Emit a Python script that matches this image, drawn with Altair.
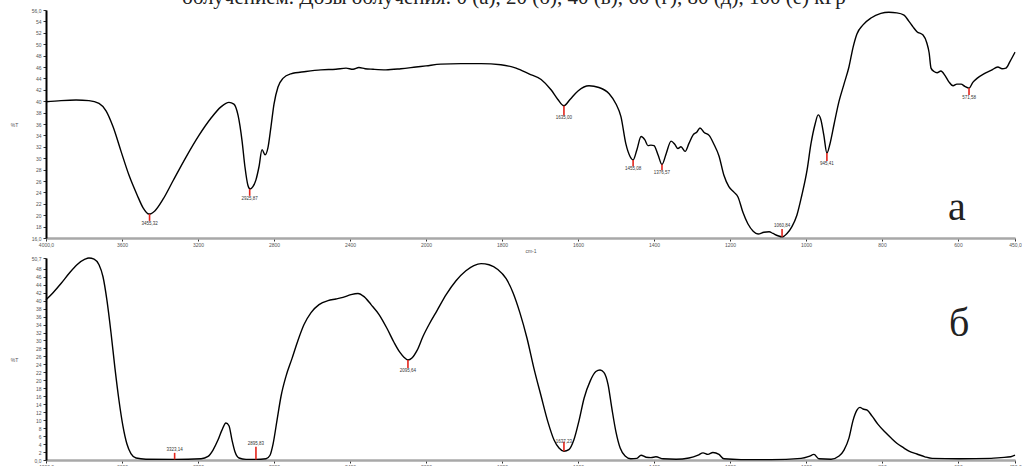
import altair as alt
import pandas as pd

# ---------------- data ----------------
TITLE = "облучением. Дозы облучения: 0 (а), 20 (б), 40 (в), 60 (г), 80 (д), 100 (е) кГр"

TOP_WN = [4000, 3921, 3842, 3774, 3721, 3684, 3647, 3605, 3563, 3521, 3489, 3458, 3426, 3384, 3332,
          3263, 3195, 3132, 3079, 3037, 3011, 2989, 2968, 2953, 2937, 2926, 2911, 2895, 2879, 2863,
          2847, 2832, 2816, 2800, 2779, 2753, 2711, 2632, 2553, 2474, 2421, 2384, 2353, 2321, 2279,
          2211, 2132, 2053, 2000, 1961, 1908, 1855, 1803, 1763, 1729, 1697, 1671, 1653, 1637, 1621,
          1600, 1571, 1545, 1518, 1500, 1487, 1474, 1463, 1455, 1445, 1434, 1424, 1416, 1408, 1400,
          1389, 1379, 1368, 1355, 1345, 1337, 1329, 1318, 1308, 1297, 1287, 1279, 1268, 1255, 1242,
          1229, 1216, 1203, 1189, 1179, 1166, 1153, 1139, 1126, 1111, 1097, 1087, 1074, 1063, 1050,
          1037, 1024, 1011, 997, 987, 976, 968, 961, 953, 945, 937, 926, 913, 900, 887,
          876, 866, 850, 829, 803, 782, 761, 742, 729, 718, 708, 692, 682, 676, 671,
          663, 655, 645, 634, 624, 613, 603, 592, 582, 571, 561, 550, 532, 513, 495,
          484, 474, 463, 450]
TOP_T = [39.9, 40.1, 40.2, 40.1, 39.6, 38.3, 35.5, 31.2, 27.0, 23.6, 21.3, 20.2, 20.8, 22.8, 26.0,
         30.2, 34.0, 37.0, 39.0, 39.8, 39.5, 37.5, 33.0, 28.5, 25.2, 24.6, 25.0, 26.2, 28.5, 31.5,
         30.6, 31.8, 35.5, 39.5, 42.5, 44.0, 44.8, 45.2, 45.5, 45.6, 45.8, 45.6, 45.9, 45.7, 45.6,
         45.5, 45.7, 46.0, 46.2, 46.5, 46.6, 46.6, 46.4, 45.8, 44.8, 43.8, 42.0, 40.3, 39.2, 40.3,
         41.8, 42.7, 42.4, 41.3, 39.5, 37.3, 32.5, 30.3, 29.7, 31.5, 33.8, 33.2, 32.2, 32.3, 32.2,
         30.5, 28.9, 30.8, 33.0, 32.4, 31.7, 32.0, 31.2, 32.6, 34.1, 34.6, 35.3, 34.5, 34.0, 32.4,
         30.4, 27.0, 25.0, 24.0, 23.2, 20.5, 18.5, 17.2, 16.7, 17.0, 17.1, 16.8, 16.4, 16.2, 16.8,
         18.0, 20.0, 23.5, 28.0, 32.5, 36.0, 37.6, 36.8, 34.0, 30.9, 32.5, 36.0, 40.0, 43.0, 46.0,
         49.5, 51.8, 53.4, 54.6, 55.4, 55.6, 55.5, 55.1, 54.0, 53.0, 52.2, 51.6, 50.2, 48.5, 45.8,
         45.2, 45.0, 45.3, 44.5, 43.4, 42.7, 43.0, 43.0, 42.6, 42.3, 43.3, 44.0, 44.8, 45.4, 46.0,
         45.7, 45.8, 47.0, 48.6]

BOT_WN = [4000, 3963, 3921, 3879, 3837, 3795, 3774, 3747, 3721, 3700, 3679, 3658, 3637, 3616, 3595,
          3574, 3553, 3526, 3474, 3321, 3184, 3147, 3121, 3095, 3074, 3053, 3037, 3021, 3005, 2984,
          2947, 2895, 2842, 2821, 2805, 2784, 2763, 2737, 2705, 2674, 2642, 2605, 2563, 2516, 2474,
          2437, 2395, 2358, 2326, 2289, 2247, 2205, 2168, 2137, 2116, 2095, 2074, 2047, 2016, 1992,
          1971, 1947, 1921, 1895, 1874, 1855, 1834, 1811, 1789, 1771, 1753, 1734, 1716, 1697, 1679,
          1663, 1650, 1637, 1624, 1611, 1597, 1584, 1568, 1553, 1542, 1532, 1521, 1511, 1500, 1489,
          1476, 1461, 1445, 1434, 1421, 1408, 1395, 1376, 1342, 1308, 1284, 1271, 1258, 1245, 1229,
          1216, 1171, 1092, 1013, 992, 979, 966, 934, 913, 900, 887, 876, 866, 858, 850,
          839, 826, 811, 792, 776, 761, 742, 729, 708, 687, 668, 597, 513, 487, 461, 450]
BOT_T = [40.2, 42.0, 44.3, 46.8, 49.0, 50.4, 50.7, 50.4, 49.0, 46.0, 40.0, 32.0, 23.0, 15.0, 8.5,
         4.0, 1.6, 0.5, 0.2, 0.15, 0.3, 0.9, 2.5, 5.0, 7.5, 9.3, 8.6, 5.0, 2.0, 0.5,
         0.15, 0.15, 0.3, 1.2, 4.0, 10.0, 16.0, 21.0, 25.5, 30.0, 34.0, 37.0, 39.0, 40.0, 40.4,
         40.8, 41.5, 41.8, 41.0, 39.0, 36.5, 33.0, 29.5, 27.0, 25.8, 25.1, 25.6, 27.5, 31.0, 34.0,
         37.5, 41.5, 45.0, 47.5, 48.8, 49.3, 49.0, 47.8, 45.5, 42.0, 37.0, 30.5, 23.0, 16.0, 9.5,
         5.0, 3.0, 2.2, 2.6, 5.0, 10.0, 15.5, 19.8, 22.2, 22.6, 22.0, 19.0, 13.0, 7.0, 3.0,
         1.0, 0.3, 0.4, 1.2, 0.7, 0.6, 0.8, 0.3, 0.2, 0.5, 1.2, 1.8, 1.4, 1.9, 1.4,
         0.3, 0.1, 0.1, 0.4, 0.9, 1.4, 0.3, 0.2, 1.0, 2.5, 5.5, 10.0, 12.5, 13.2, 12.8,
         12.5, 11.0, 9.0, 7.0, 5.5, 4.2, 3.0, 2.2, 1.5, 0.8, 0.4, 0.3, 0.4, 0.6, 0.8, 1.2]

TOP_PEAK_WN = [3455, 2928, 1637, 1455, 1379, 1063, 945, 571]
TOP_PEAK_LAB = ["3455,32", "2925,87", "1635,00", "1455,08", "1376,57", "1060,84", "945,41", "571,58"]
TOP_PEAK_T = [20.2, 24.6, 39.2, 29.7, 28.9, 16.2, 30.9, 42.3]
TOP_PEAK_T2 = [19.0, 23.4, 37.5, 28.6, 27.9, 17.6, 29.5, 41.1]
TOP_PEAK_TL = [18.5, 22.9, 37.0, 28.1, 27.4, 18.1, 29.0, 40.6]

BOT_PEAK_WN = [3323, 2895, 2095, 1637]
BOT_PEAK_LAB = ["3323,14", "2895,83", "2095,64", "1637,23"]
BOT_PEAK_T = [0.15, 0.15, 25.1, 2.2]
BOT_PEAK_T2 = [1.8, 3.3, 23.1, 4.6]
BOT_PEAK_TL = [2.6, 4.0, 22.3, 4.6]

LETTERS = ["а", "б"]
LETTER_WN = [603, 597]
LETTER_T = [19.2, 31.1]

X_TICKS = [4000, 3600, 3200, 2800, 2400, 2000, 1800, 1600, 1400, 1200, 1000, 800, 600, 450]
TOP_Y_TICKS = list(range(16, 57, 2))
BOT_Y_TICKS = list(range(0, 49, 2)) + [50.7]

# ---------------- layout ----------------
W = 969
H_TOP = 228
H_BOT = 202
X_DOMAIN = [4000, 2000, 450]
X_RANGE = [0, 380, W]
RED = "#e3241b"
SMALL_FONT = "Liberation Sans"


def xenc(title):
    return alt.X(
        "wn:Q",
        scale=alt.Scale(domain=X_DOMAIN, range=X_RANGE),
        axis=alt.Axis(
            values=X_TICKS, format="d",
            labelExpr="datum.value == 4000 ? '4000,0' : (datum.value == 450 ? '450,0' : datum.label)",
            labelFlush=False, labelOverlap=False, labelFontSize=5, labelColor="#555",
            labelFont=SMALL_FONT, labelPadding=1,
            domainColor="#a8a8a8", domainWidth=2.5, tickColor="#333", tickSize=3, tickWidth=1,
            titleFontSize=5, titleFont=SMALL_FONT, titleFontWeight="normal", titleColor="#555",
            titlePadding=1, grid=False,
        ),
        title=title,
    )


def yenc(field, domain, ticks, expr, h):
    return alt.Y(
        f"{field}:Q",
        scale=alt.Scale(domain=domain, nice=False, zero=False),
        axis=alt.Axis(
            values=ticks, format="d", labelExpr=expr, labelOverlap=False, labelFlush=False,
            labelFontSize=5, labelColor="#555", labelFont=SMALL_FONT, labelPadding=2,
            domainColor="#000", domainWidth=2, tickColor="#333", tickSize=3, tickWidth=1,
            titleAngle=0, titleX=-32, titleY=h / 2, titleAlign="center", titleBaseline="middle",
            titleFontSize=5, titleFont=SMALL_FONT, titleFontWeight="normal", titleColor="#555",
            grid=False,
        ),
        title="%T",
    )


def panel(wn, t, pk_wn, pk_t, pk_t2, pk_tl, pk_lab, letter, letter_wn, letter_t,
          domain, ticks, expr, h, xtitle, with_title):
    spec = pd.DataFrame({"wn": wn, "t": t})
    peaks = pd.DataFrame({"wn": pk_wn, "t": pk_t, "t2": pk_t2, "tl": pk_tl, "lab": pk_lab})
    let = pd.DataFrame({"wn": [letter_wn], "t": [letter_t], "lab": [letter]})

    line = alt.Chart(spec).mark_line(color="black", strokeWidth=1.4, interpolate="monotone").encode(
        x=xenc(xtitle), y=yenc("t", domain, ticks, expr, h))
    rules = alt.Chart(peaks).mark_rule(color=RED, strokeWidth=1.6).encode(
        x=xenc(xtitle), y=yenc("t", domain, ticks, expr, h), y2="t2:Q")
    labs = alt.Chart(peaks).mark_text(fontSize=4.5, color="#333", font=SMALL_FONT,
                                      baseline="middle", align="center").encode(
        x=xenc(xtitle), y=yenc("tl", domain, ticks, expr, h), text="lab:N")
    letter_mark = alt.Chart(let).mark_text(font="Liberation Serif", fontSize=40, color="#222",
                                           baseline="alphabetic", align="center").encode(
        x=xenc(xtitle), y=yenc("t", domain, ticks, expr, h), text="lab:N")
    layers = [line, rules, labs, letter_mark]
    if with_title:
        ttl = alt.Chart(pd.DataFrame({"txt": [TITLE]})).mark_text(
            font="Liberation Serif", fontSize=21, color="#222", baseline="alphabetic",
            align="center").encode(x=alt.value(468), y=alt.value(-6), text="txt:N")
        layers.append(ttl)
    return alt.layer(*layers).properties(width=W, height=h)


top = panel(TOP_WN, TOP_T, TOP_PEAK_WN, TOP_PEAK_T, TOP_PEAK_T2, TOP_PEAK_TL, TOP_PEAK_LAB,
            LETTERS[0], LETTER_WN[0], LETTER_T[0], [16, 56], TOP_Y_TICKS,
            "datum.value == 56 ? '56,0' : (datum.value == 16 ? '16,0' : datum.label)",
            H_TOP, "cm-1", True)
bottom = panel(BOT_WN, BOT_T, BOT_PEAK_WN, BOT_PEAK_T, BOT_PEAK_T2, BOT_PEAK_TL, BOT_PEAK_LAB,
               LETTERS[1], LETTER_WN[1], LETTER_T[1], [0, 50.7], BOT_Y_TICKS,
               "datum.value == 0 ? '0,0' : (datum.value > 50 ? '50,7' : datum.label)",
               H_BOT, None, False)

chart = alt.vconcat(top, bottom, spacing=2).properties(
    padding={"top": -13, "left": 10, "right": 0, "bottom": 0},
    background="white",
).configure_view(strokeWidth=0)

chart.save("out.html", embed_options={"renderer": "svg", "actions": False})
